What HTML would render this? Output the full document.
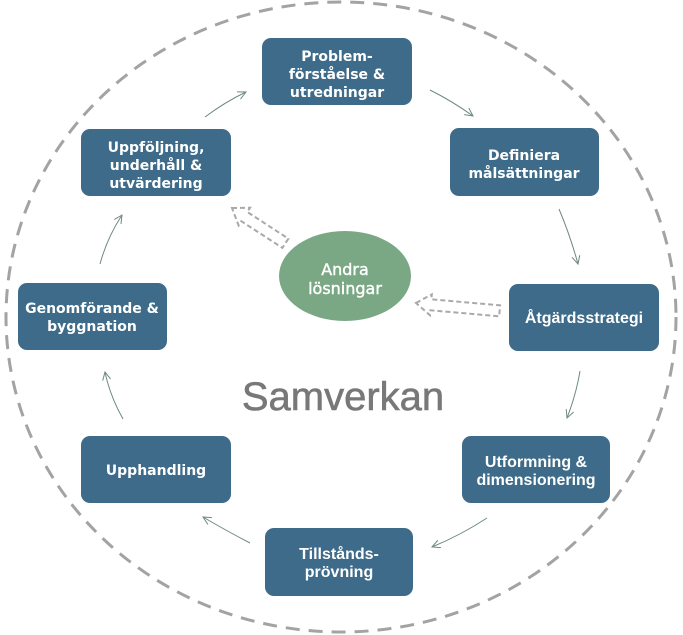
<!DOCTYPE html>
<html><head><meta charset="utf-8"><style>
html,body{margin:0;padding:0;background:#fff;}
svg{display:block;}
.b{fill:#3d6b89;}
.t{font-family:"DejaVu Sans","Liberation Sans",sans-serif;font-weight:bold;font-size:14px;fill:#fff;text-anchor:middle;}
.n{font-family:"Liberation Sans",sans-serif;font-weight:bold;font-size:16px;fill:#fff;text-anchor:middle;}
.a{stroke:#6f8a7f;stroke-width:1;fill:none;}
.h{stroke:#a9a9a9;stroke-width:2;stroke-dasharray:5,3;fill:#fff;}
</style></head><body>
<svg width="683" height="635" viewBox="0 0 683 635" xmlns="http://www.w3.org/2000/svg">
<defs><marker id="m" markerWidth="10" markerHeight="10" refX="9" refY="5" orient="auto" markerUnits="userSpaceOnUse"><path d="M1,1 L9,5 L1,9" fill="none" stroke="#6f8a7f" stroke-width="1"/></marker></defs>
<ellipse cx="341" cy="317" rx="335" ry="315" fill="none" stroke="#a3a3a3" stroke-width="3" stroke-dasharray="14,9"/>
<text x="343" y="410" font-family="'Liberation Sans',sans-serif" font-size="40" fill="#787878" stroke="#787878" stroke-width="0.6" text-anchor="middle">Samverkan</text>

<path class="a" d="M205,117 Q225,102 246,92" marker-end="url(#m)"/>
<path class="a" d="M430,90 Q452,101 473,116" marker-end="url(#m)"/>
<path class="a" d="M559,209 Q570,235 578,264" marker-end="url(#m)"/>
<path class="a" d="M580,371 Q576,395 567,418" marker-end="url(#m)"/>
<path class="a" d="M487,518 Q461,535 432,547" marker-end="url(#m)"/>
<path class="a" d="M250,543 Q225,530 203,517" marker-end="url(#m)"/>
<path class="a" d="M123,419 Q110,396 105,372" marker-end="url(#m)"/>
<path class="a" d="M100,264 Q107,238 122,215" marker-end="url(#m)"/>

<ellipse cx="345" cy="276" rx="66" ry="45" fill="#7aa884"/>
<text x="345" y="275" class="t" style="font-weight:normal;font-size:16px" stroke="#fff" stroke-width="0.4">Andra</text>
<text x="345" y="294" class="t" style="font-weight:normal;font-size:16px" stroke="#fff" stroke-width="0.4">lösningar</text>

<polygon class="h" transform="translate(232,208) rotate(33)" points="0,0 15,-10 15,-5 64,-5 64,6 15,6 15,11"/>
<polygon class="h" transform="translate(416,303) rotate(5)" points="0,0 15,-10 15,-5 84,-5 84,6 15,6 15,11"/>

<rect class="b" x="262" y="38" width="150" height="67" rx="9"/>
<text class="t" x="337" y="61">Problem-</text><text class="t" x="337" y="79">förståelse &amp;</text><text class="t" x="337" y="97">utredningar</text>

<rect class="b" x="450" y="128" width="149" height="68" rx="9"/>
<text class="t" x="524" y="160">Definiera</text><text class="t" x="524" y="178">målsättningar</text>

<rect class="b" x="509" y="284" width="150" height="67" rx="9"/>
<text class="n" x="584" y="323">Åtgärdsstrategi</text>

<rect class="b" x="462" y="436" width="148" height="67" rx="9"/>
<text class="n" x="536" y="467">Utformning &amp;</text><text class="n" x="536" y="485">dimensionering</text>

<rect class="b" x="265" y="528" width="148" height="68" rx="9"/>
<text class="n" x="339" y="559">Tillstånds-</text><text class="n" x="339" y="577">prövning</text>

<rect class="b" x="81" y="436" width="150" height="67" rx="9"/>
<text class="t" x="156" y="475">Upphandling</text>

<rect class="b" x="18" y="283" width="149" height="67" rx="9"/>
<text class="t" x="92" y="313">Genomförande &amp;</text><text class="t" x="92" y="331">byggnation</text>

<rect class="b" x="81" y="129" width="150" height="67" rx="9"/>
<text class="t" x="156" y="152">Uppföljning,</text><text class="t" x="156" y="170">underhåll &amp;</text><text class="t" x="156" y="188">utvärdering</text>
</svg>
</body></html>
